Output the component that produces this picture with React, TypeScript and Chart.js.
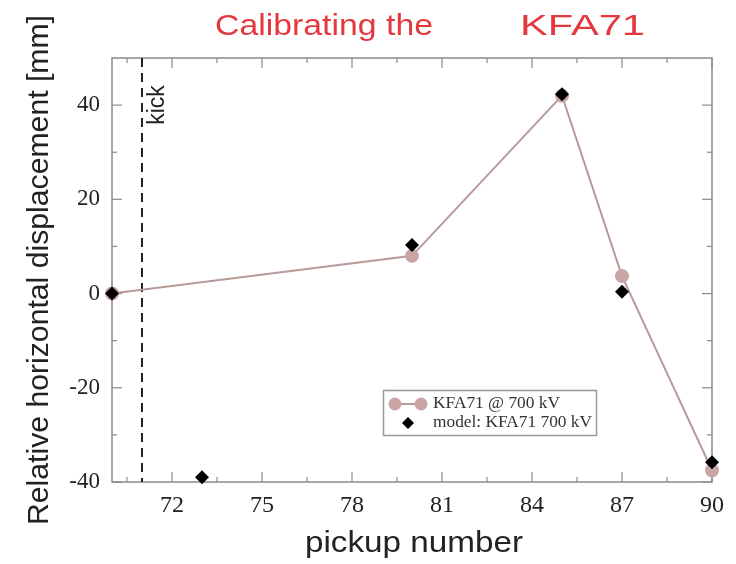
import { useEffect, useRef } from "react";
import { Chart, registerables } from "chart.js";

Chart.register(...registerables);

// ---- data ----
const measuredPickups = [70, 80, 85, 87, 90];
const measuredDisp = [0, 8, 42, 3.7, -37.5];
const modelPickups = [70, 73, 80, 85, 87, 90];
const modelDisp = [0, -39, 10.3, 42.3, 0.4, -35.8];
const xTickValues = [72, 75, 78, 81, 84, 87, 90];
const xMinorTicks = [70.5, 73.5, 76.5, 79.5, 82.5, 85.5, 88.5];
const yTickValues = [-40, -20, 0, 20, 40];
const yMinorTicks = [-30, -10, 10, 30];
const seriesNames = ["KFA71 @ 700 kV", "model: KFA71 700 kV"];
const KICK_PICKUP = 71;
const KICK_LABEL = "kick";
const TITLE_LEFT = "Calibrating the";
const TITLE_RIGHT = "KFA71";
const X_TITLE = "pickup number";
const Y_TITLE = "Relative horizontal displacement [mm]";

const SANS = '"Liberation Sans", Arial, Helvetica, sans-serif';
const SERIF = '"Liberation Serif", "Times New Roman", serif';
const LINE_COLOR = "#b89a9a";
const MARKER_COLOR = "#caa5a5";
const FRAME_COLOR = "#8a8a8a";

function drawStretched(
  ctx: CanvasRenderingContext2D,
  text: string,
  x: number,
  y: number,
  width: number,
  font: string,
  color: string,
  baseline: CanvasTextBaseline = "alphabetic"
) {
  ctx.save();
  ctx.font = font;
  const w = ctx.measureText(text).width || 1;
  ctx.translate(x, y);
  ctx.scale(width / w, 1);
  ctx.textAlign = "left";
  ctx.textBaseline = baseline;
  ctx.fillStyle = color;
  ctx.fillText(text, 0, 0);
  ctx.restore();
}

const decorPlugin = {
  id: "decor",
  beforeDatasetsDraw(chart: any) {
    const { ctx, chartArea } = chart;
    const { left, right, top, bottom } = chartArea;
    const xs = chart.scales.x;
    const ys = chart.scales.y;
    ctx.save();
    ctx.strokeStyle = FRAME_COLOR;
    ctx.lineWidth = 1.5;
    ctx.strokeRect(left, top, right - left, bottom - top);
    const tick = (x1: number, y1: number, x2: number, y2: number) => {
      ctx.beginPath();
      ctx.moveTo(x1, y1);
      ctx.lineTo(x2, y2);
      ctx.stroke();
    };
    ctx.lineWidth = 1.2;
    xTickValues.forEach((v) => {
      const px = xs.getPixelForValue(v);
      tick(px, bottom, px, bottom - 10);
      tick(px, top, px, top + 10);
    });
    xMinorTicks.forEach((v) => {
      const px = xs.getPixelForValue(v);
      tick(px, bottom, px, bottom - 5);
      tick(px, top, px, top + 5);
    });
    yTickValues.forEach((v) => {
      const py = ys.getPixelForValue(v);
      tick(left, py, left + 10, py);
      tick(right, py, right - 10, py);
    });
    yMinorTicks.forEach((v) => {
      const py = ys.getPixelForValue(v);
      tick(left, py, left + 5, py);
      tick(right, py, right - 5, py);
    });
    const kx = xs.getPixelForValue(KICK_PICKUP);
    ctx.strokeStyle = "#222";
    ctx.lineWidth = 2;
    ctx.setLineDash([9, 6]);
    tick(kx, top, kx, bottom);
    ctx.setLineDash([]);
    ctx.translate(kx + 16, top + 47);
    ctx.rotate(-Math.PI / 2);
    ctx.font = "23px " + SANS;
    ctx.fillStyle = "#222";
    ctx.textAlign = "center";
    ctx.textBaseline = "middle";
    ctx.fillText(KICK_LABEL, 0, 0);
    ctx.restore();
  },
  afterDraw(chart: any) {
    const { ctx } = chart;
    drawStretched(ctx, TITLE_LEFT, 215, 35, 218, "30px " + SANS, "#e4383f");
    drawStretched(ctx, TITLE_RIGHT, 520, 35, 125, "30px " + SANS, "#e4383f");
    drawStretched(ctx, X_TITLE, 305, 552, 218, "29px " + SANS, "#222");
    ctx.save();
    ctx.translate(48, 525);
    ctx.rotate(-Math.PI / 2);
    drawStretched(ctx, Y_TITLE, 0, 0, 510, "30px " + SANS, "#222");
    ctx.restore();
    ctx.save();
    ctx.strokeStyle = "#999";
    ctx.lineWidth = 1.5;
    ctx.strokeRect(383.5, 390.5, 213, 45);
    ctx.strokeStyle = LINE_COLOR;
    ctx.lineWidth = 2;
    ctx.beginPath();
    ctx.moveTo(395, 404);
    ctx.lineTo(421, 404);
    ctx.stroke();
    ctx.fillStyle = MARKER_COLOR;
    [395, 421].forEach((cx) => {
      ctx.beginPath();
      ctx.arc(cx, 404, 6.5, 0, Math.PI * 2);
      ctx.fill();
    });
    ctx.fillStyle = "#000";
    ctx.beginPath();
    ctx.moveTo(408, 417);
    ctx.lineTo(414, 423);
    ctx.lineTo(408, 429);
    ctx.lineTo(402, 423);
    ctx.closePath();
    ctx.fill();
    ctx.restore();
    drawStretched(ctx, seriesNames[0], 433, 404, 127, "16px " + SERIF, "#333", "middle");
    drawStretched(ctx, seriesNames[1], 433, 423, 159, "16px " + SERIF, "#333", "middle");
  },
};

export default function App() {
  const canvasRef = useRef<HTMLCanvasElement | null>(null);

  useEffect(() => {
    const canvas = canvasRef.current;
    if (!canvas) return;
    const chart = new Chart(canvas, {
      type: "scatter",
      data: {
        datasets: [
          {
            label: seriesNames[1],
            data: modelPickups.map((x, i) => ({ x, y: modelDisp[i] })),
            showLine: false,
            pointStyle: "rectRot",
            pointRadius: 7,
            backgroundColor: "#000",
            borderColor: "#000",
            borderWidth: 0,
            order: 0,
            clip: false,
          } as any,
          {
            label: seriesNames[0],
            data: measuredPickups.map((x, i) => ({ x, y: measuredDisp[i] })),
            showLine: true,
            borderColor: LINE_COLOR,
            borderWidth: 2,
            pointRadius: 7,
            pointBackgroundColor: MARKER_COLOR,
            pointBorderColor: MARKER_COLOR,
            pointBorderWidth: 0,
            backgroundColor: MARKER_COLOR,
            order: 1,
            clip: false,
          } as any,
        ],
      },
      options: {
        animation: false,
        responsive: false,
        devicePixelRatio: 1,
        events: [],
        layout: { padding: { top: 58, right: 24, left: 0, bottom: 0 } },
        plugins: {
          legend: { display: false },
          tooltip: { enabled: false },
          title: { display: false },
        },
        scales: {
          x: {
            type: "linear",
            min: 70,
            max: 90,
            afterBuildTicks: (s: any) => {
              s.ticks = xTickValues.map((v) => ({ value: v }));
            },
            afterFit: (s: any) => {
              s.height = 82;
            },
            grid: { display: false },
            border: { display: false },
            ticks: {
              font: { family: SERIF, size: 24 },
              color: "#222",
              padding: 1,
              maxRotation: 0,
              autoSkip: false,
            },
          },
          y: {
            type: "linear",
            min: -40,
            max: 50,
            afterBuildTicks: (s: any) => {
              s.ticks = yTickValues.map((v) => ({ value: v }));
            },
            afterFit: (s: any) => {
              s.width = 112;
            },
            grid: { display: false },
            border: { display: false },
            ticks: {
              font: { family: SERIF, size: 23 },
              color: "#222",
              padding: 4,
              autoSkip: false,
            },
          },
        },
      } as any,
      plugins: [decorPlugin],
    });
    return () => chart.destroy();
  }, []);

  return (
    <div
      style={{
        position: "fixed",
        left: 0,
        top: 0,
        width: 736,
        height: 564,
        background: "#fff",
      }}
    >
      <canvas ref={canvasRef} width={736} height={564} />
    </div>
  );
}
